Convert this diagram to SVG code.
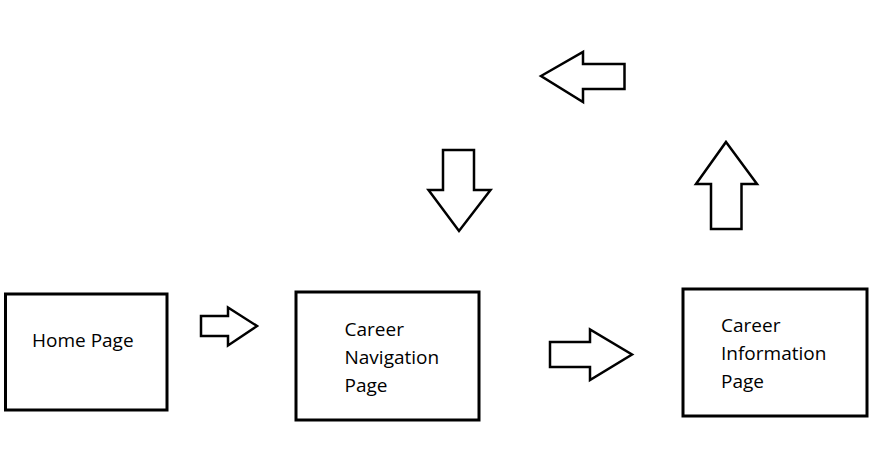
<svg xmlns="http://www.w3.org/2000/svg" width="873" height="455" viewBox="0 0 873 455">
<style>
.box{fill:#fff;stroke:#000;stroke-width:3}
.arr{fill:#fff;stroke:#000;stroke-width:2.5;stroke-linejoin:miter}
text{font-family:"Open Sans","Liberation Sans",sans-serif;font-size:19px;fill:#000}
</style>
<rect width="873" height="455" fill="#fff"/>
<g id="home">
<rect class="box" x="5.5" y="294" width="161.5" height="116"/>
<text x="32" y="346.5">Home Page</text>
</g>
<g id="career-navigation">
<rect class="box" x="296" y="292" width="183" height="128"/>
<text x="344.5" y="336">Career</text>
<text x="344.5" y="364">Navigation</text>
<text x="344.5" y="392">Page</text>
</g>
<g id="career-information">
<rect class="box" x="683" y="289" width="184" height="127"/>
<text x="721" y="331.5">Career</text>
<text x="721" y="359.5">Information</text>
<text x="721" y="387.5">Page</text>
</g>
<g id="connectors">
<polygon class="arr" points="201,316 228,316 228,307.5 257,326 228,345.5 228,336 201,336"/>
<polygon class="arr" points="550,342 590,342 590,329.5 632,354.5 590,380 590,367 550,367"/>
<polygon class="arr" points="726,142 757,184 741.5,184 741.5,229 711,229 711,184 696,184"/>
<polygon class="arr" points="541,76 583,52 583,64 624.5,64 624.5,89 583,89 583,102"/>
<polygon class="arr" points="443,150 474,150 474,190 490.5,190 459,231 428.5,190 443,190"/>
</g>
</svg>
